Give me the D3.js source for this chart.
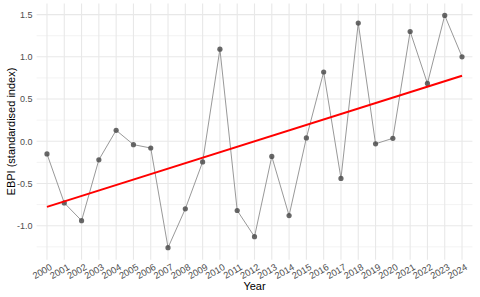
<!DOCTYPE html>
<html><head><meta charset="utf-8">
<script src="https://cdn.jsdelivr.net/npm/d3@7"></script>
<style>body{margin:0;background:#fff}svg{display:block}text{font-family:"Liberation Sans",Arial,sans-serif}</style>
</head><body><svg id="c" width="480" height="297"></svg>
<script>
const years = ["2000","2001","2002","2003","2004","2005","2006","2007","2008","2009","2010","2011","2012","2013","2014","2015","2016","2017","2018","2019","2020","2021","2022","2023","2024"];
const ebpi = [-0.15,-0.73,-0.94,-0.22,0.13,-0.04,-0.08,-1.26,-0.80,-0.245,1.09,-0.82,-1.13,-0.18,-0.88,0.04,0.82,-0.44,1.40,-0.03,0.035,1.30,0.685,1.49,1.00];
const trendYears = ["2000","2024"];
const trendValues = [-0.777,0.775];
const yTicks = [-1.0,-0.5,0.0,0.5,1.0,1.5];
const yMinor = [-1.25,-0.75,-0.25,0.25,0.75,1.25];

const svg = d3.select("#c");
const L = 36.6, R = 472.4, T = 3.4, B = 259.7;
const x = d3.scalePoint().domain(years).range([L, R]).padding(0.6);
const y = d3.scaleLinear().domain([-1.4025, 1.6325]).range([B, T]);

const g = svg.append("g");
g.selectAll(".ymin").data(yMinor).join("line")
  .attr("x1", L).attr("x2", R).attr("y1", d=>y(d)).attr("y2", d=>y(d))
  .attr("stroke", "#ebebeb").attr("stroke-width", 0.6);
g.selectAll(".ymaj").data(yTicks).join("line")
  .attr("x1", L).attr("x2", R).attr("y1", d=>y(d)).attr("y2", d=>y(d))
  .attr("stroke", "#e8e8e8").attr("stroke-width", 1.1);
g.selectAll(".xmaj").data(years).join("line")
  .attr("x1", d=>x(d)).attr("x2", d=>x(d)).attr("y1", T).attr("y2", B)
  .attr("stroke", "#e8e8e8").attr("stroke-width", 1.1);

const yAxis = d3.axisLeft(y).tickValues(yTicks).tickFormat(d3.format(".1f")).tickSize(0).tickPadding(4);
const ya = svg.append("g").attr("transform", `translate(${L},0)`).call(yAxis);
ya.select(".domain").remove();
ya.selectAll("text").attr("fill", "#4d4d4d").style("font-size", "9px")
  .text(d => d3.format(".1f")(d).replace("−","-"));

const xAxis = d3.axisBottom(x).tickSize(0).tickPadding(0);
const xa = svg.append("g").attr("transform", `translate(0,${B})`).call(xAxis);
xa.select(".domain").remove();
xa.selectAll("text").attr("fill", "#4d4d4d").style("font-size", "9.3px")
  .attr("text-anchor", "end").attr("dy", "0.72em").attr("y", 0)
  .attr("transform", "translate(2,3.5) rotate(-30)");

const line = d3.line().x((d,i)=>x(years[i])).y(d=>y(d));
svg.append("path").datum(ebpi).attr("d", line).attr("fill", "none")
  .attr("stroke", "#999999").attr("stroke-width", 1);
svg.selectAll(".pt").data(ebpi).join("circle")
  .attr("cx", (d,i)=>x(years[i])).attr("cy", d=>y(d)).attr("r", 2.6)
  .attr("fill", "#4d4d4d").attr("fill-opacity", 0.85);
svg.append("path").datum(trendValues)
  .attr("d", d3.line().x((d,i)=>x(trendYears[i])).y(d=>y(d)))
  .attr("fill", "none").attr("stroke", "#ff0000").attr("stroke-width", 2);

svg.append("text").attr("x", (L+R)/2).attr("y", 290).attr("text-anchor", "middle")
  .style("font-size", "11px").attr("fill", "#000").text("Year");
svg.append("text").attr("transform", `translate(15,${(T+B)/2}) rotate(-90)`)
  .attr("text-anchor", "middle").style("font-size", "11px").attr("fill", "#000")
  .text("EBPI (standardised index)");
</script></body></html>
